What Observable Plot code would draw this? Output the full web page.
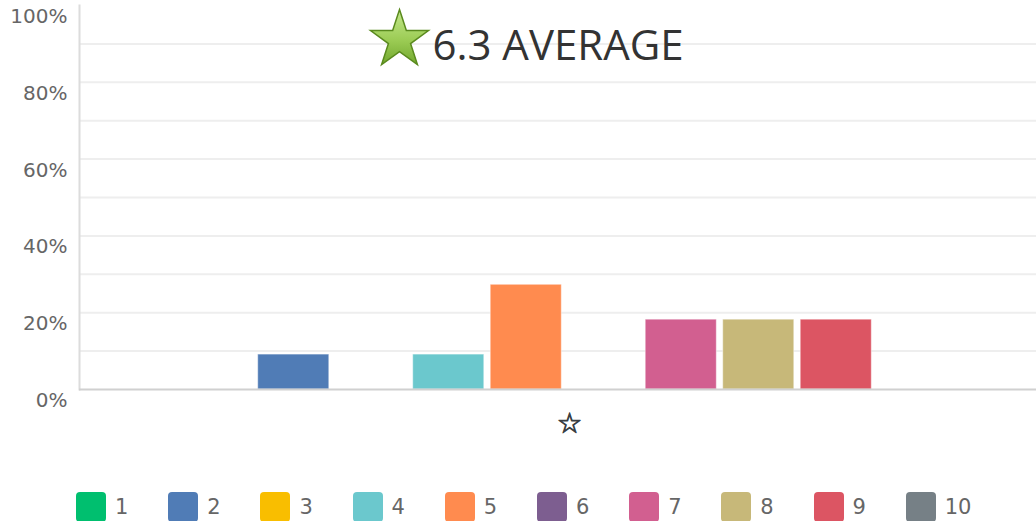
<!DOCTYPE html>
<html><head><meta charset="utf-8">
<script src="https://cdn.jsdelivr.net/npm/d3@7"></script>
<script src="https://cdn.jsdelivr.net/npm/@observablehq/plot@0.6"></script>
<style>
body{margin:0;background:#fff;width:1036px;height:521px;overflow:hidden;position:relative;}
#legend{display:flex;position:absolute;left:76px;top:492px;font-family:"DejaVu Sans",sans-serif;font-size:21px;color:#666;}
.item{display:flex;align-items:center;width:92.2px;}
.sw{width:30px;height:30px;border-radius:4px;margin-right:9px;flex:none;}
</style></head><body>
<div id="chart"></div><div id="legend"></div>
<script>
const scores = ["1","2","3","4","5","6","7","8","9","10"];
const percents = [0, 9.09, 0, 9.09, 27.27, 0, 18.18, 18.18, 18.18, 0];
const colors = ["#00BF6F","#507CB6","#F9BE00","#6BC8CD","#FF8B4F","#7D5E90","#D25F90","#C7B879","#DC5563","#768086"];
const yTicks = [0, 20, 40, 60, 80, 100];
const gridLines = [10, 20, 30, 40, 50, 60, 70, 80, 90];

const data = scores.map((s, i) => ({score: s, pct: percents[i]}));
const total = d3.sum(percents);
const avg = d3.sum(percents, (p, i) => p * (+scores[i])) / total;
const title = `${avg.toFixed(1)} AVERAGE`;

const chart = Plot.plot({
  width: 1036,
  height: 470,
  marginLeft: 79,
  marginRight: 0,
  marginTop: 5,
  marginBottom: 81,
  x: {domain: scores, range: [177, 952], paddingInner: 0.083, paddingOuter: 0.0415, round: false, axis: null},
  y: {domain: [0, 100], axis: null, label: null},
  color: {type: "ordinal", domain: scores, range: colors},
  marks: [
    Plot.ruleY(gridLines, {stroke: "#eeeeee", strokeWidth: 2}),
    Plot.frame({anchor: "left", stroke: "#dcdcdc", strokeWidth: 2}),
    Plot.axisY(yTicks, {label: null, tickSize: 0, tickPadding: 12, dy: 11, tickFormat: d => d + "%", fontSize: 20, fill: "#666", fontFamily: "DejaVu Sans"}),
    Plot.barY(data, {x: "score", y: "pct", fill: "score", stroke: "white", strokeOpacity: 0.45, strokeWidth: 1}),
    Plot.ruleY([0], {stroke: "#d0d0d0", strokeWidth: 2}),
    Plot.text([title], {frameAnchor: "top", dy: 41, fontSize: 42, fontFamily: "Open Sans", fill: "#333", lineAnchor: "middle"}),
    Plot.dot([title], {frameAnchor: "top", dx: -158.5, dy: 34.5, symbol: "star", r: 18.2, fill: "url(#starGrad)", stroke: "#5a8a1e", strokeWidth: 1.5}),
    Plot.text(["☆"], {frameAnchor: "bottom", dx: 11.5, dy: 35, fontSize: 28, fontFamily: "DejaVu Sans", fill: "#3a3f44", stroke: "#3a3f44", strokeWidth: 0.9, lineAnchor: "middle"})
  ]
});
const defs = d3.select(chart).insert("defs", ":first-child");
const g = defs.append("linearGradient").attr("id", "starGrad").attr("x1", 0).attr("y1", 0).attr("x2", 0).attr("y2", 1);
g.append("stop").attr("offset", "0%").attr("stop-color", "#c4e88c");
g.append("stop").attr("offset", "55%").attr("stop-color", "#9ccc55");
g.append("stop").attr("offset", "100%").attr("stop-color", "#72a82e");
document.getElementById("chart").append(chart);

const legend = d3.select("#legend");
scores.forEach((s, i) => {
  const it = legend.append("div").attr("class", "item");
  it.append("div").attr("class", "sw").style("background", colors[i]);
  it.append("span").text(s);
});
</script>
</body></html>
